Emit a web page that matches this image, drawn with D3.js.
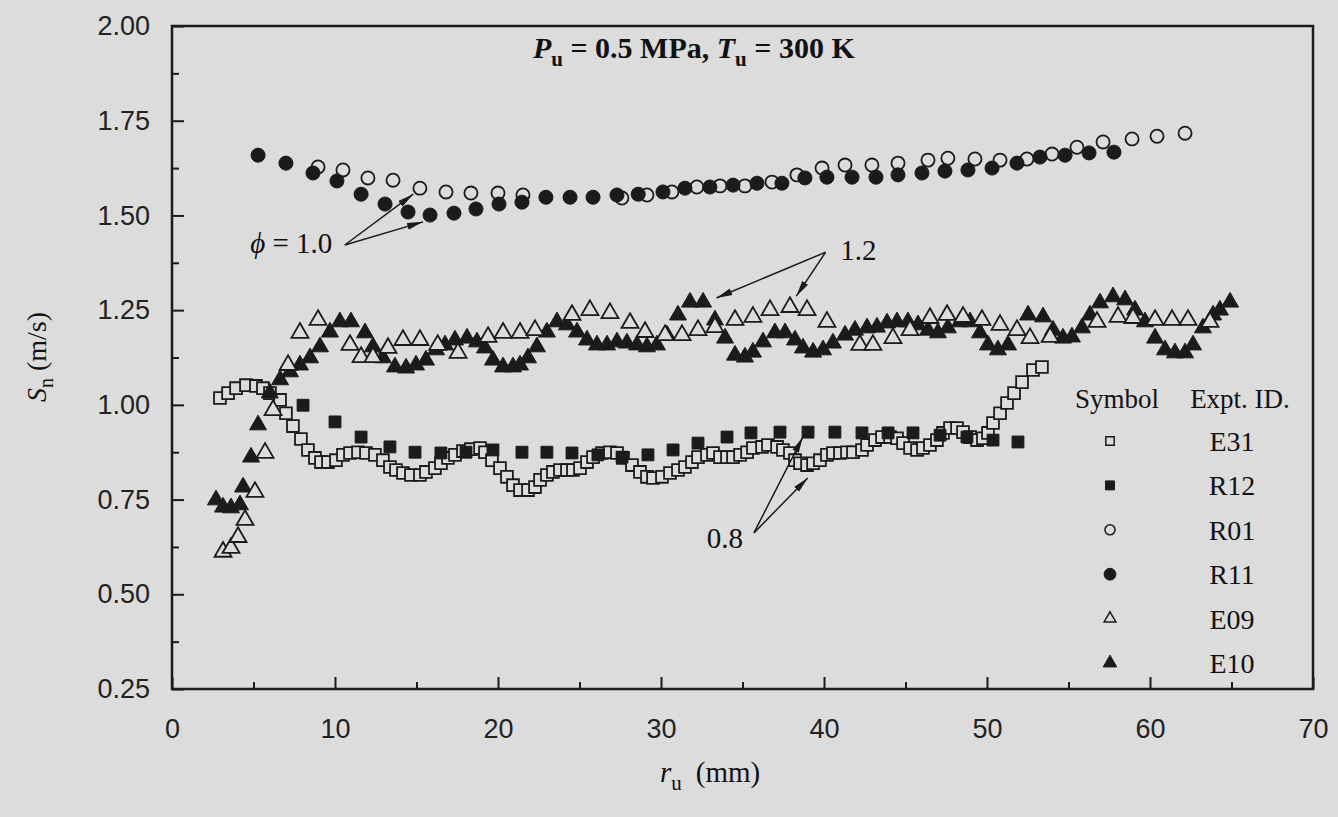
<!DOCTYPE html>
<html><head><meta charset="utf-8">
<script src="https://cdn.jsdelivr.net/npm/d3@7"></script>
<style>body{margin:0;background:#dcdcdc;} svg{display:block}</style>
</head><body>
<svg id="chart" width="1338" height="817"></svg>
<script>
// ---------- data ----------
const xTicks = [0,10,20,30,40,50,60,70];
const yTicks = [0.25,0.50,0.75,1.00,1.25,1.50,1.75,2.00];
const legendIds = ["E31","R12","R01","R11","E09","E10"];

const E31 = [[2.94,1.018],[3.44,1.031],[3.93,1.044],[4.54,1.052],[5.15,1.050],[5.58,1.044],[6.01,1.031],[6.63,1.013],[6.99,0.978],[7.42,0.944],[7.91,0.910],[8.34,0.881],[8.77,0.860],[9.14,0.849],[9.57,0.849],[10.06,0.854],[10.49,0.868],[10.92,0.873],[11.41,0.875],[11.9,0.873],[12.45,0.868],[12.94,0.854],[13.37,0.836],[13.74,0.828],[14.17,0.820],[14.66,0.815],[15.21,0.815],[15.58,0.823],[16.13,0.833],[16.5,0.846],[16.93,0.860],[17.36,0.868],[17.85,0.878],[18.34,0.883],[18.9,0.886],[19.2,0.875],[19.63,0.854],[20.12,0.833],[20.55,0.810],[20.92,0.788],[21.35,0.775],[21.84,0.775],[22.27,0.783],[22.58,0.802],[23.0,0.815],[23.37,0.823],[23.8,0.828],[24.23,0.828],[24.6,0.828],[25.03,0.833],[25.46,0.849],[25.83,0.862],[26.38,0.873],[26.87,0.875],[27.3,0.873],[27.67,0.860],[28.22,0.841],[28.71,0.823],[29.14,0.810],[29.51,0.807],[30.06,0.810],[30.55,0.820],[31.04,0.828],[31.47,0.836],[31.9,0.849],[32.27,0.862],[32.82,0.868],[33.19,0.873],[33.62,0.862],[34.05,0.862],[34.42,0.862],[34.85,0.868],[35.28,0.875],[35.64,0.886],[36.2,0.889],[36.56,0.894],[37.12,0.889],[37.48,0.881],[37.91,0.873],[38.22,0.854],[38.53,0.846],[38.96,0.841],[39.33,0.846],[39.75,0.854],[40.18,0.868],[40.55,0.873],[40.98,0.873],[41.41,0.875],[41.78,0.875],[42.33,0.881],[42.64,0.894],[43.13,0.907],[43.56,0.915],[44.05,0.915],[44.48,0.912],[44.85,0.899],[45.28,0.886],[45.71,0.881],[46.07,0.886],[46.5,0.894],[46.93,0.907],[47.3,0.926],[47.73,0.939],[48.16,0.939],[48.53,0.928],[48.96,0.915],[49.39,0.907],[49.75,0.912],[50.06,0.926],[50.37,0.952],[50.8,0.978],[51.23,1.005],[51.66,1.031],[52.15,1.060],[52.82,1.092],[53.37,1.100]];

const R12 = [[8.04,0.999],[10.0,0.955],[11.6,0.915],[13.37,0.889],[14.91,0.875],[16.5,0.873],[18.04,0.875],[19.69,0.881],[21.47,0.875],[23.0,0.875],[24.54,0.873],[26.13,0.868],[27.61,0.862],[29.2,0.868],[30.74,0.881],[32.27,0.899],[34.05,0.915],[35.52,0.926],[37.3,0.928],[39.02,0.928],[40.67,0.928],[42.33,0.926],[43.93,0.926],[45.46,0.926],[47.12,0.920],[48.77,0.915],[50.37,0.907],[51.9,0.902]];

const R01 = [[8.96,1.628],[10.49,1.620],[12.02,1.599],[13.56,1.593],[15.21,1.572],[16.81,1.562],[18.34,1.559],[20.0,1.559],[21.53,1.554],[27.6,1.546],[29.14,1.554],[30.67,1.562],[32.2,1.575],[33.62,1.578],[35.15,1.578],[36.81,1.588],[38.34,1.607],[39.88,1.625],[41.29,1.633],[42.94,1.633],[44.54,1.638],[46.38,1.646],[47.6,1.651],[49.26,1.649],[50.8,1.646],[52.45,1.649],[53.99,1.662],[55.52,1.680],[57.12,1.694],[58.9,1.702],[60.43,1.709],[62.15,1.717]];

const R11 = [[5.28,1.659],[6.99,1.638],[8.65,1.612],[10.12,1.591],[11.6,1.556],[13.07,1.530],[14.48,1.509],[15.83,1.501],[17.3,1.506],[18.65,1.517],[20.06,1.530],[21.47,1.535],[22.94,1.548],[24.42,1.548],[25.83,1.548],[27.3,1.554],[28.6,1.556],[30.12,1.562],[31.47,1.572],[33.0,1.575],[34.42,1.580],[35.89,1.585],[37.42,1.585],[38.83,1.599],[40.18,1.601],[41.72,1.601],[43.19,1.601],[44.54,1.607],[46.01,1.612],[47.42,1.617],[48.83,1.620],[50.31,1.625],[51.84,1.638],[53.25,1.654],[54.79,1.659],[56.26,1.665],[57.79,1.667]];

const E09 = [[3.13,0.612],[3.62,0.622],[4.05,0.651],[4.48,0.696],[5.09,0.770],[5.71,0.873],[6.2,0.986],[7.12,1.105],[7.85,1.190],[8.96,1.224],[10.92,1.158],[11.6,1.126],[12.33,1.126],[13.25,1.150],[14.17,1.171],[15.21,1.171],[16.3,1.158],[17.55,1.137],[19.39,1.179],[20.31,1.190],[21.35,1.190],[22.27,1.197],[24.54,1.237],[25.64,1.250],[26.87,1.242],[28.1,1.216],[29.02,1.192],[30.25,1.184],[31.29,1.184],[32.27,1.197],[33.31,1.205],[34.54,1.224],[35.64,1.232],[36.69,1.250],[37.91,1.258],[38.96,1.250],[40.18,1.219],[42.2,1.158],[43.0,1.158],[44.23,1.176],[45.28,1.197],[46.5,1.229],[47.55,1.237],[48.53,1.232],[49.69,1.224],[50.8,1.211],[51.84,1.197],[52.64,1.176],[53.87,1.179],[56.75,1.219],[58.04,1.232],[58.96,1.229],[60.31,1.224],[61.35,1.224],[62.33,1.224],[63.68,1.219]];

const E10 = [[2.7,0.749],[3.13,0.730],[3.62,0.728],[4.17,0.736],[4.36,0.783],[4.85,0.862],[5.28,0.947],[6.0,1.031],[6.63,1.066],[7.24,1.087],[7.85,1.105],[8.47,1.124],[9.08,1.153],[9.69,1.192],[10.3,1.219],[10.98,1.219],[11.84,1.190],[12.33,1.153],[12.94,1.124],[13.68,1.100],[14.36,1.097],[14.97,1.105],[15.58,1.118],[16.2,1.145],[16.75,1.158],[17.36,1.171],[18.1,1.176],[18.71,1.166],[19.2,1.150],[19.69,1.118],[20.31,1.100],[20.92,1.100],[21.35,1.105],[21.84,1.124],[22.39,1.153],[23.0,1.192],[23.62,1.219],[24.23,1.211],[24.85,1.192],[25.46,1.171],[26.07,1.158],[26.69,1.158],[27.3,1.166],[27.91,1.163],[28.53,1.158],[29.14,1.153],[29.75,1.158],[30.37,1.184],[31.04,1.237],[31.78,1.271],[32.58,1.271],[33.31,1.224],[33.93,1.176],[34.54,1.131],[35.15,1.126],[35.64,1.139],[36.26,1.166],[36.99,1.190],[37.61,1.190],[38.22,1.171],[38.71,1.150],[39.33,1.139],[39.94,1.145],[40.55,1.163],[41.29,1.184],[41.9,1.197],[42.64,1.203],[43.25,1.205],[43.87,1.216],[44.48,1.219],[45.15,1.219],[45.77,1.211],[46.38,1.197],[46.99,1.190],[47.6,1.203],[48.34,1.219],[48.96,1.219],[49.57,1.190],[50.06,1.158],[50.67,1.145],[51.29,1.158],[51.84,1.197],[52.52,1.237],[53.44,1.232],[54.05,1.197],[54.66,1.176],[55.21,1.179],[55.83,1.203],[56.32,1.237],[56.93,1.269],[57.73,1.285],[58.47,1.277],[59.08,1.250],[59.69,1.219],[60.31,1.176],[60.92,1.145],[61.53,1.137],[62.15,1.137],[62.64,1.158],[63.25,1.203],[63.87,1.237],[64.29,1.250],[64.91,1.271]];

// annotations in data units
const annPhi = {text:[4.8,1.40], from:[10.6,1.422], tips:[[14.8,1.556],[15.4,1.483]]};
const ann12  = {text:[41.0,1.382], from:[40.1,1.403], tips:[[33.4,1.282],[38.3,1.287]]};
const ann08  = {text:[32.8,0.622], from:[35.7,0.662], tips:[[38.7,0.915],[39.0,0.807]]};

// ---------- layout ----------
const BG = "#dcdcdc", INK = "#1b1b1b";
const M = {left:172, right:1313, top:26, bottom:689};
const svg = d3.select("#chart");
svg.append("rect").attr("width",1338).attr("height",817).attr("fill",BG);

const x = d3.scaleLinear().domain([0,70]).range([M.left,M.right]);
const y = d3.scaleLinear().domain([0.25,2.0]).range([M.bottom,M.top]);

const sans = "'Liberation Sans', Arial, Helvetica, sans-serif";
const serif = "'Liberation Serif', 'Times New Roman', Times, serif";

// axes
const gx = svg.append("g").attr("transform",`translate(0,${M.bottom})`)
  .call(d3.axisBottom(x).tickValues(xTicks).tickSize(-12).tickPadding(30).tickFormat(d3.format("d")));
const gxm = svg.append("g").attr("transform",`translate(0,${M.bottom})`)
  .call(d3.axisBottom(x).tickValues(d3.range(5,70,10)).tickSize(-7).tickFormat(""));
const gy = svg.append("g").attr("transform",`translate(${M.left},0)`)
  .call(d3.axisLeft(y).tickValues(yTicks).tickSize(-12).tickPadding(22).tickFormat(d3.format(".2f")));
const gym = svg.append("g").attr("transform",`translate(${M.left},0)`)
  .call(d3.axisLeft(y).tickValues(d3.range(0.375,2.0,0.25)).tickSize(-7).tickFormat(""));
[gx,gxm,gy,gym].forEach(g=>{
  g.select(".domain").remove();
  g.selectAll(".tick line").attr("stroke",INK).attr("stroke-width",2);
  g.selectAll("text").attr("font-family",sans).attr("font-size",27).attr("fill","#222");
});

// frame
svg.append("rect").attr("x",M.left).attr("y",M.top)
  .attr("width",M.right-M.left).attr("height",M.bottom-M.top)
  .attr("fill","none").attr("stroke",INK).attr("stroke-width",2.5);

// markers
const sym = (type,size)=>d3.symbol().type(type).size(size)();
const styles = {
  E31:{type:d3.symbolSquare,  size:140, fill:BG,  open:true},
  R12:{type:d3.symbolSquare,  size:140, fill:INK, open:false},
  R01:{type:d3.symbolCircle,  size:135, fill:BG,  open:true},
  R11:{type:d3.symbolCircle,  size:155, fill:INK, open:false},
  E09:{type:d3.symbolTriangle,size:125, fill:BG,  open:true},
  E10:{type:d3.symbolTriangle,size:125, fill:INK, open:false}
};
const seriesData = {E31,R12,R01,R11,E09,E10};
const drawOrder = ["E31","R12","E10","E09","R01","R11"];
drawOrder.forEach(id=>{
  const st = styles[id];
  svg.append("g").selectAll("path").data(seriesData[id]).join("path")
    .attr("d", sym(st.type, st.size))
    .attr("transform", d=>`translate(${x(d[0])},${y(d[1])})`)
    .attr("fill", st.fill)
    .attr("stroke", INK).attr("stroke-width", st.open?1.8:1);
});

// title
const title = svg.append("text").attr("x",533).attr("y",58)
  .attr("text-anchor","start").attr("font-family",serif).attr("font-weight","bold")
  .attr("font-size",30).attr("fill","#111");
title.append("tspan").attr("font-style","italic").text("P");
title.append("tspan").attr("font-size",21).attr("dy",8).text("u");
title.append("tspan").attr("dy",-8).text(" = 0.5 MPa, ");
title.append("tspan").attr("font-style","italic").text("T");
title.append("tspan").attr("font-size",21).attr("dy",8).text("u");
title.append("tspan").attr("dy",-8).text(" = 300 K");

// axis labels
const xl = svg.append("text").attr("x",660).attr("y",782).attr("text-anchor","start")
  .attr("font-family",serif).attr("font-size",29).attr("fill","#111");
xl.append("tspan").attr("font-style","italic").text("r");
xl.append("tspan").attr("font-size",21).attr("dy",8).text("u");
xl.append("tspan").attr("dy",-8).attr("dx",14).text("(mm)");

const yl = svg.append("text").attr("transform","translate(46,357) rotate(-90)").attr("text-anchor","middle")
  .attr("font-family",serif).attr("font-size",28).attr("fill","#111");
yl.append("tspan").attr("font-style","italic").text("S");
yl.append("tspan").attr("font-size",20).attr("dy",7).text("n");
yl.append("tspan").attr("dy",-7).text("  (m/s)");

// annotations
const defs = svg.append("defs");
defs.append("marker").attr("id","ah").attr("viewBox","0 -4 16 8").attr("refX",16).attr("refY",0)
  .attr("markerWidth",16).attr("markerHeight",8).attr("markerUnits","userSpaceOnUse").attr("orient","auto")
  .append("path").attr("d","M0,-3.5L16,0L0,3.5Z").attr("fill",INK);
function annotate(a, parts){
  a.tips.forEach(t=>{
    svg.append("line").attr("x1",x(a.from[0])).attr("y1",y(a.from[1]))
      .attr("x2",x(t[0])).attr("y2",y(t[1])).attr("stroke",INK).attr("stroke-width",1.5)
      .attr("marker-end","url(#ah)");
  });
  const t = svg.append("text").attr("x",x(a.text[0])).attr("y",y(a.text[1]))
    .attr("font-family",serif).attr("font-size",29).attr("fill","#111");
  parts.forEach(p=>t.append("tspan").attr("font-style",p[1]?"italic":"normal").text(p[0]));
}
annotate(annPhi, [["ϕ",true],[" = 1.0",false]]);
annotate(ann12, [["1.2",false]]);
annotate(ann08, [["0.8",false]]);

// legend
const lgSymX = 1110, lgTxtX = 1232, lgY0 = 441, lgDy = 44.4;
svg.append("text").attr("x",lgSymX+7).attr("y",408).attr("text-anchor","middle")
  .attr("font-family",serif).attr("font-size",27).attr("fill","#111").text("Symbol");
svg.append("text").attr("x",1240).attr("y",408).attr("text-anchor","middle")
  .attr("font-family",serif).attr("font-size",27).attr("fill","#111").text("Expt. ID.");
const legSizes = {E31:70,R12:80,R01:80,R11:110,E09:60,E10:80};
legendIds.forEach((id,i)=>{
  const st = styles[id], yy = lgY0 + i*lgDy;
  svg.append("path").attr("d",sym(st.type,legSizes[id]))
    .attr("transform",`translate(${lgSymX},${yy})`)
    .attr("fill",st.fill).attr("stroke",INK).attr("stroke-width",st.open?1.5:1);
  svg.append("text").attr("x",lgTxtX).attr("y",yy+10).attr("text-anchor","middle")
    .attr("font-family",serif).attr("font-size",28).attr("fill","#111").text(id);
});
</script>
</body></html>
